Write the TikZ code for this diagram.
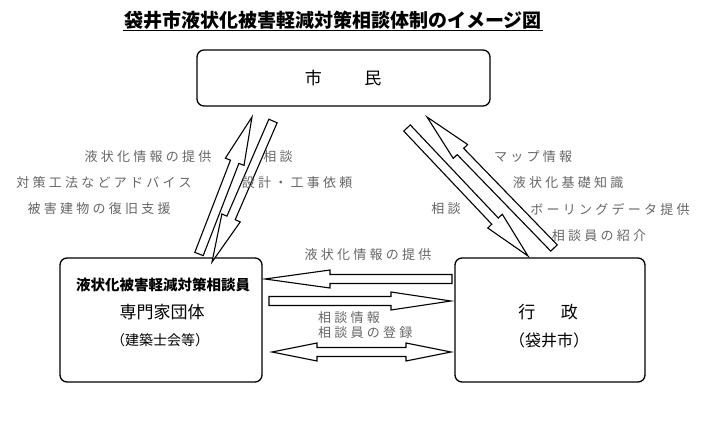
\documentclass[tikz,border=0pt]{standalone}
\usepackage{fontspec}
\setmainfont{Noto Sans CJK JP}
\newfontfamily\lblfont[LetterSpace=25]{Noto Sans CJK JP}
\usetikzlibrary{calc}
\tikzset{
 box/.style={draw, line width=1.3pt, rounded corners=7pt},
 arr/.style={draw, line width=1.1pt, fill=white, line join=miter},
 lbl/.style={text=black!60, font=\lblfont\fontsize{13}{14}\selectfont, inner sep=0pt},
 boxtxt/.style={font=\fontsize{17}{19}\selectfont, inner sep=0pt}
}
\newcommand\blk[4]{% tail, tip, headlen, headwidth
\pgfmathanglebetweenpoints{\pgfpointanchor{#1}{center}}{\pgfpointanchor{#2}{center}}\let\ang\pgfmathresult
\pgfpointdiff{\pgfpointanchor{#1}{center}}{\pgfpointanchor{#2}{center}}\pgfgetlastxy\dx\dy
\pgfmathsetmacro\len{veclen(\dx,\dy)}
\begin{scope}[shift={(#1)},rotate=\ang]
\draw[arr] (0pt,-4.5pt) -- ({\len pt-#3 pt},-4.5pt) -- ({\len pt-#3 pt},-#4 pt) -- (\len pt,0pt) -- ({\len pt-#3 pt},#4 pt) -- ({\len pt-#3 pt},4.5pt) -- (0pt,4.5pt) -- cycle;
\end{scope}}
\newcommand\dblk[4]{%
\pgfpointdiff{\pgfpointanchor{#1}{center}}{\pgfpointanchor{#2}{center}}\pgfgetlastxy\dx\dy
\pgfmathsetmacro\len{veclen(\dx,\dy)}
\begin{scope}[shift={(#1)}]
\draw[arr] (0pt,0pt) -- (#3 pt,#4 pt) -- (#3 pt,4.5pt) -- ({\len pt-#3 pt},4.5pt) -- ({\len pt-#3 pt},#4 pt) -- (\len pt,0pt) -- ({\len pt-#3 pt},-#4 pt) -- ({\len pt-#3 pt},-4.5pt) -- (#3 pt,-4.5pt) -- (#3 pt,-#4 pt) -- cycle;
\end{scope}}
\begin{document}
\begin{tikzpicture}[x=1pt,y=-1pt]
\useasboundingbox (0,0) rectangle (706,420);
\node[font=\bfseries\fontsize{19}{20}\selectfont, inner sep=1pt] (title) at (333,20) {袋井市液状化被害軽減対策相談体制のイメージ図};
\draw[line width=1.3pt] (title.south west) -- (title.south east);
\draw[box] (197,50) rectangle (490,106);
\node[boxtxt] (shimin) at (343,78) {市\hspace{2.5em}民};
\draw[box] (60,258) rectangle (262,382);
\draw[box] (455,258) rectangle (645,382);
\node[inner sep=0pt, font=\bfseries\fontsize{14.5}{16}\selectfont] (s1) at (163,285) {液状化被害軽減対策相談員};
\node[boxtxt] (s2) at (162,312) {専門家団体};
\node[inner sep=0pt, font=\fontsize{14}{16}\selectfont] (s3) at (160,340) {（建築士会等）};
\node[boxtxt] (g1) at (548,312) {行\hspace{1.5em}政};
\node[inner sep=0pt, font=\fontsize{16}{18}\selectfont] (g2) at (549,340) {（袋井市）};
% coordinates
\coordinate (a1t) at (199,254); \coordinate (a1h) at (252,117);
\coordinate (a2t) at (273,121); \coordinate (a2h) at (212,262);
\coordinate (a3t) at (407,128); \coordinate (a3h) at (528,256);
\coordinate (a4t) at (554,248); \coordinate (a4h) at (427,117);
\coordinate (h1t) at (452,279); \coordinate (h1h) at (265,279);
\coordinate (h2t) at (269,301); \coordinate (h2h) at (451,301);
\coordinate (h3t) at (272,352); \coordinate (h3h) at (451,352);
\blk{a1t}{a1h}{48}{10}
\blk{a2t}{a2h}{48}{10}
\blk{a3t}{a3h}{48}{10}
\blk{a4t}{a4h}{48}{10}
\blk{h1t}{h1h}{65}{9}
\blk{h2t}{h2h}{60}{9}
\dblk{h3t}{h3h}{45}{9}
\node[lbl] (l1) at (148,157) {液状化情報の提供};
\node[lbl] (l2) at (104,183) {対策工法などアドバイス};
\node[lbl] (l3) at (99,209) {被害建物の復旧支援};
\node[lbl] (l4) at (278,157) {相談};
\node[lbl] (l5) at (297,183) {設計・工事依頼};
\node[lbl] (r1) at (533,157) {マップ情報};
\node[lbl] (r2) at (568,183) {液状化基礎知識};
\node[lbl] (r3) at (610,209) {ボーリングデータ提供};
\node[lbl] (r4) at (599,236) {相談員の紹介};
\node[lbl] (r5) at (446,209) {相談};
\node[lbl] (m1) at (368,255) {液状化情報の提供};
\node[lbl, anchor=west] (m2) at (318,318) {相談情報};
\node[lbl, anchor=west] (m3) at (318,333) {相談員の登録};
\end{tikzpicture}
\end{document}
